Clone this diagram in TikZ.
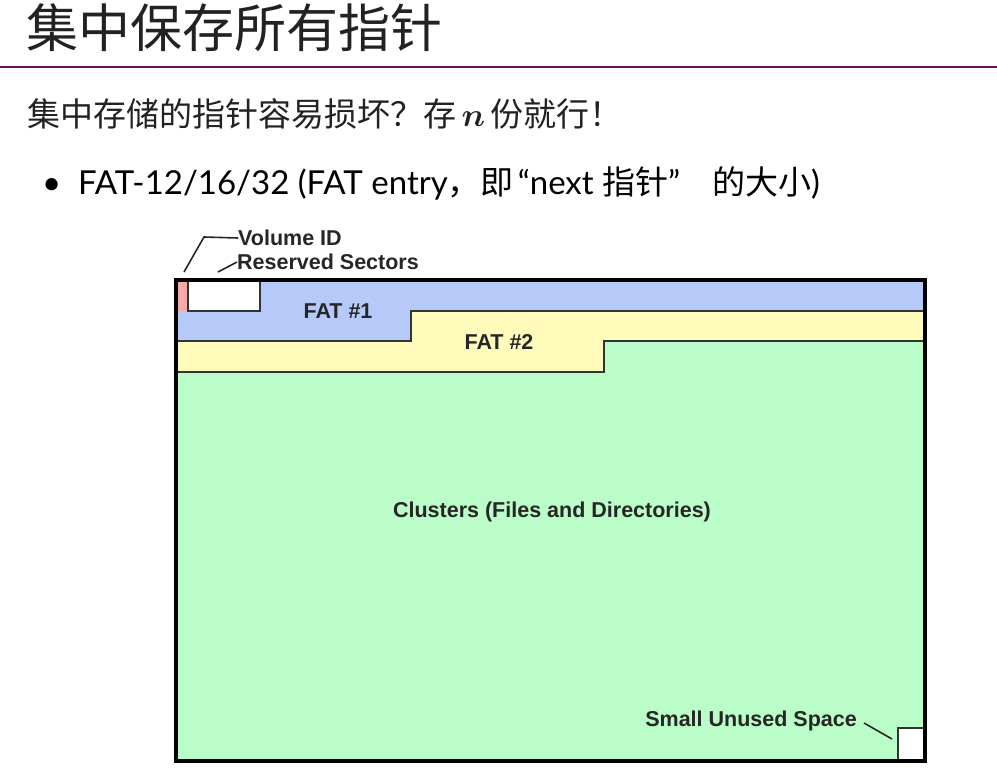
\RequirePackage{fix-cm}
\documentclass[tikz,border=0pt]{standalone}
\usepackage{bm}
\usepackage{fontspec}
\setmainfont{Lato}
\newfontfamily\cjk{Noto Sans CJK SC}
\newfontfamily\diag{Liberation Sans}
\definecolor{titlepurple}{RGB}{106,14,94}
\definecolor{fatblue}{RGB}{182,202,250}
\definecolor{fatyellow}{RGB}{255,252,187}
\definecolor{clgreen}{RGB}{187,253,200}
\definecolor{vidpink}{RGB}{246,170,170}
\definecolor{txtgray}{RGB}{34,34,34}
\tikzset{
  dlabel/.style={inner sep=0pt, font=\diag\bfseries\fontsize{21.5}{24}\selectfont, text=black!85},
  thinline/.style={draw=black!80, line width=1.3pt},
  leader/.style={draw=black!85, line width=1.6pt},
}
\newcommand{\cj}[1]{{\cjk #1}}
\begin{document}
\begin{tikzpicture}[x=1pt,y=-1pt]
\useasboundingbox (0,0) rectangle (997,780);
% title
\node[anchor=base west, inner sep=0pt, text=txtgray, font=\cjk\fontsize{52}{58}\selectfont] (title) at (26,47) {集中保存所有指针};
\draw[titlepurple, line width=2pt] (0,67) -- (997,67);
% line 2
\node[anchor=base west, inner sep=0pt, text=txtgray, font=\fontsize{33}{38}\selectfont] (line2) at (27,126)
  {\cjk 集中存储的指针容易损坏？存\,$\bm{n}$\,份就行！};
% bullet line
\node[anchor=base west, inner sep=0pt, text=black, font=\fontsize{33}{38}\selectfont] (bullet) at (42,194) {\textbullet};
\node[anchor=base west, inner sep=0pt, text=black, font=\fontsize{33}{38}\selectfont] (line3) at (78,194)
  {FAT-12/16/32 (FAT entry\cj{，即}\hspace{4pt}“next \cj{指针}”\hspace{32pt}\cj{的大小})};
% diagram regions
\fill[clgreen] (177,280) rectangle (924,760);
\fill[fatyellow] (177,341) -- (411,341) -- (411,311) -- (924,311) -- (924,341) -- (604,341) -- (604,372) -- (177,372) -- cycle;
\fill[fatblue] (177,280) -- (924,280) -- (924,311) -- (411,311) -- (411,341) -- (177,341) -- cycle;
\fill[white] (188,281) rectangle (260,311);
\fill[vidpink] (177,281) rectangle (188,311);
\draw[thinline] (177,341) -- (411,341) -- (411,311) -- (924,311);
\draw[thinline] (177,372) -- (604,372) -- (604,341) -- (924,341);
\draw[thinline] (188,281) -- (188,311) -- (260,311) -- (260,281);
\fill[white] (898,728) rectangle (924,760);
\draw[thinline] (898,760) -- (898,728) -- (924,728);
\draw[black, line width=4pt] (176,279.5) rectangle (925,761);
% labels
\node[dlabel, anchor=west] (vid) at (238,238) {Volume ID};
\node[dlabel, anchor=west] (rs) at (237,262) {Reserved Sectors};
\node[dlabel] (fat1) at (338,311) {FAT \#1};
\node[dlabel] (fat2) at (499,342) {FAT \#2};
\node[dlabel] (clu) at (552,512) {Clusters (Files and Directories)};
\node[dlabel, anchor=east] (sus) at (857,721) {Small Unused Space};
% leaders
\coordinate (vidend) at (184,272);
\coordinate (rsend) at (218,272);
\coordinate (susend) at (892,739);
\draw[leader] (vidend) -- (204,237) -- (vid.west);
\draw[leader] (rsend) -- (rs.west);
\draw[leader] (sus.east) ++(7,2) -- (susend);
\end{tikzpicture}
\end{document}
